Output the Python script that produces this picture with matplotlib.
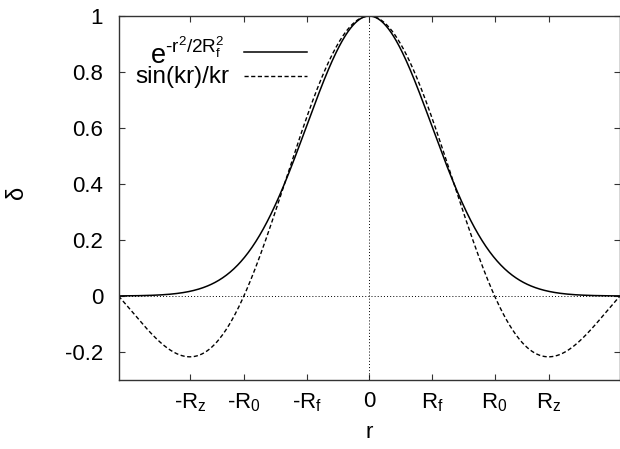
import numpy as np
import matplotlib
matplotlib.use('Agg')
import matplotlib.pyplot as plt

plt.rcParams['font.family'] = ['Liberation Sans', 'DejaVu Sans']
plt.rcParams['mathtext.fontset'] = 'custom'
plt.rcParams['mathtext.rm'] = 'Liberation Sans'
plt.rcParams['mathtext.it'] = 'Liberation Sans:italic'
plt.rcParams['mathtext.default'] = 'regular'

# scales (k = 1): first zero of sin(kr)/kr, first minimum, filter radius
k = 1.0
R0 = np.pi / k
Rz = 4.4934 / k
Rf = R0 / 2
rmax = 2 * R0

xtick_vals = [-Rz, -R0, -Rf, 0, Rf, R0, Rz]
xtick_labels = ['-R$_z$', '-R$_0$', '-R$_f$', '0', 'R$_f$', 'R$_0$', 'R$_z$']
ytick_vals = [-0.2, 0, 0.2, 0.4, 0.6, 0.8, 1]
ytick_labels = ['-0.2', '0', '0.2', '0.4', '0.6', '0.8', '1']

r = np.linspace(-rmax, rmax, 801)
gauss = np.exp(-r**2 / (2 * Rf**2))
kr = k * r
sinc = np.where(kr == 0, 1.0, np.sin(kr) / np.where(kr == 0, 1.0, kr))

fig = plt.figure(figsize=(6.2, 4.49), dpi=100)
ax = fig.add_axes([118.5 / 620, 1 - 380 / 449, (620 - 118.5) / 620, 364 / 449])

# zero axes
ax.axhline(0, color='black', lw=0.7, dashes=(1, 2.2))
ax.axvline(0, color='black', lw=0.7, dashes=(1, 2.2))

ax.plot(r, gauss, color='black', lw=1.1)
ax.plot(r, sinc, color='black', lw=1.0, dashes=(3, 1.8))

ax.set_xlim(-rmax, rmax)
ax.set_ylim(-0.3, 1)
ax.set_xticks(xtick_vals)
ax.set_xticklabels(xtick_labels)
ax.set_yticks(ytick_vals)
ax.set_yticklabels(ytick_labels)
ax.tick_params(direction='in', length=4, width=0.8, labelsize=16,
               top=True, right=True, color='#333333')
ax.tick_params(axis='y', pad=11)
ax.tick_params(axis='x', pad=8)
for s in ax.spines.values():
    s.set_color('#333333')
    s.set_linewidth(1.0)

ax.set_xlabel('r', fontsize=16, labelpad=6)
ax.set_ylabel('δ', fontsize=17, rotation=90)
ax.yaxis.set_label_coords(-0.180, 0.514)

# key, right-aligned text with line sample
ax.text(0.212, 0.868, '$e^{\u2010r^2/2R_f^2}$', fontsize=19.5, ha='right',
        va='baseline', transform=ax.transAxes)
ax.plot([0.250, 0.376], [0.902, 0.902], color='black', lw=1.1,
        transform=ax.transAxes)
ax.text(0.222, 0.816, 'sin(kr)/kr', fontsize=17.5, ha='right',
        va='baseline', transform=ax.transAxes)
ax.plot([0.250, 0.376], [0.835, 0.835], color='black', lw=1.0,
        dashes=(3, 1.8), transform=ax.transAxes)

fig.savefig('out.png', dpi=100)
